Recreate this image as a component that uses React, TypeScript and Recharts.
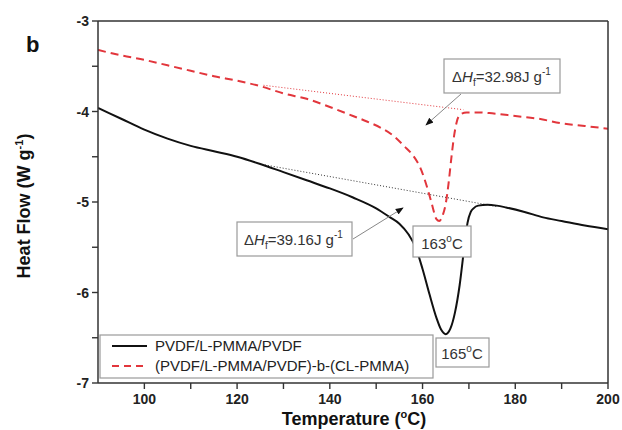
import React from "react";
import { LineChart, Line, XAxis, YAxis, ReferenceLine } from "recharts";

// ── DSC traces ───────────────────────────────────────────────
const blackTemp = [90, 95, 100, 105, 110, 115, 120, 125, 130, 135, 140, 145, 150, 153, 155, 157, 158.5, 160, 161.5, 163, 164, 165, 166, 167, 168, 169, 169.7, 170.4, 171, 172, 174, 176, 178, 182, 186, 190, 195, 200];
const blackHeat = [-3.96, -4.08, -4.2, -4.3, -4.38, -4.44, -4.5, -4.58, -4.67, -4.76, -4.85, -4.95, -5.07, -5.17, -5.24, -5.36, -5.5, -5.74, -6.02, -6.28, -6.41, -6.46, -6.4, -6.22, -5.92, -5.5, -5.23, -5.11, -5.07, -5.04, -5.03, -5.04, -5.06, -5.11, -5.17, -5.21, -5.26, -5.3];

const redTemp = [90, 95, 100, 105, 110, 115, 120, 125, 130, 135, 140, 145, 148, 151, 154, 156, 158, 159.5, 161, 162, 163, 163.6, 164.4, 165, 165.6, 166.2, 166.8, 167.4, 168.2, 169.5, 172, 175, 180, 185, 190, 195, 200];
const redHeat = [-3.32, -3.38, -3.43, -3.49, -3.55, -3.61, -3.66, -3.72, -3.8, -3.86, -3.95, -4.05, -4.11, -4.18, -4.28, -4.38, -4.49, -4.62, -4.84, -5.02, -5.19, -5.21, -5.14, -5.02, -4.8, -4.52, -4.27, -4.11, -4.03, -4.01, -4.01, -4.02, -4.05, -4.08, -4.13, -4.16, -4.19];

// integration baselines (start / end)
const blackBaseT = [126, 176];
const blackBaseH = [-4.59, -5.05];
const redBaseT = [125.7, 168.8];
const redBaseH = [-3.71, -3.98];

const xTicks = [100, 110, 120, 130, 140, 150, 160, 170, 180, 190, 200];
const yTicks = [-7, -6.5, -6, -5.5, -5, -4.5, -4, -3.5, -3];

const seriesNames = ["PVDF/L-PMMA/PVDF", "(PVDF/L-PMMA/PVDF)-b-(CL-PMMA)"];

const blackData = blackTemp.map((t, i) => ({ t, v: blackHeat[i] }));
const redData = redTemp.map((t, i) => ({ t, v: redHeat[i] }));

const FONT = "'Liberation Sans', Arial, sans-serif";
const AXIS = "#333";
const RED = "#e2363c";

// tick label only; the tick marks come from recharts' own tickLine
function XTick(props: any) {
  const { x, y, payload } = props;
  const v = payload.value;
  if (v % 20 !== 0) return null;
  return (
    <text x={x} y={y + 15} textAnchor="middle" fontFamily={FONT} fontWeight="bold" fontSize={14} fill="#222">
      {v}
    </text>
  );
}

function YTick(props: any) {
  const { x, y, payload } = props;
  const v = payload.value;
  if (!Number.isInteger(v)) return null;
  return (
    <text x={x - 3} y={y + 5} textAnchor="end" fontFamily={FONT} fontWeight="bold" fontSize={14} fill="#222">
      {v}
    </text>
  );
}

function Box({ x, y, w, h }: { x: number; y: number; w: number; h: number }) {
  return <rect x={x} y={y} width={w} height={h} fill="#fff" stroke="#9a9a9a" strokeWidth={1.2} />;
}

function Overlay() {
  return (
    <svg width={622} height={430} style={{ position: "absolute", left: 0, top: 0, pointerEvents: "none" }}>
      <defs>
        <marker id="arr" viewBox="0 0 10 10" refX="9" refY="5" markerWidth="8" markerHeight="8" orient="auto">
          <path d="M0,1 L10,5 L0,9 z" fill="#111" />
        </marker>
      </defs>
      <text x={26} y={52} fontFamily={FONT} fontWeight="bold" fontSize={22} fill="#111">b</text>

      {/* axis titles */}
      <text transform="translate(30,206) rotate(-90)" textAnchor="middle" fontFamily={FONT} fontWeight="bold" fontSize={18} fill="#111">
        Heat Flow (W g<tspan fontSize={11} dy={-7}>-1</tspan><tspan dy={7}>)</tspan>
      </text>
      <text x={354} y={425} textAnchor="middle" fontFamily={FONT} fontWeight="bold" fontSize={18} fill="#111">
        Temperature (<tspan fontSize={11} dy={-7}>o</tspan><tspan dy={7}>C)</tspan>
      </text>

      {/* ΔHf annotations */}
      <line x1={461} y1={94} x2={426} y2={125} stroke="#888" strokeWidth={1} markerEnd="url(#arr)" />
      <Box x={444} y={59} w={116} h={34} />
      <text x={452} y={82} fontFamily={FONT} fontSize={15} fill="#333">
        Δ<tspan fontStyle="italic">H</tspan><tspan fontSize={10} dy={4}>f</tspan><tspan dy={-4}>=32.98J g</tspan><tspan fontSize={10} dy={-7}>-1</tspan>
      </text>

      <line x1={353} y1={239} x2={403} y2={208} stroke="#888" strokeWidth={1} markerEnd="url(#arr)" />
      <Box x={237} y={222} w={115} h={34} />
      <text x={244} y={245} fontFamily={FONT} fontSize={15} fill="#333">
        Δ<tspan fontStyle="italic">H</tspan><tspan fontSize={10} dy={4}>f</tspan><tspan dy={-4}>=39.16J g</tspan><tspan fontSize={10} dy={-7}>-1</tspan>
      </text>

      {/* peak temperatures */}
      <Box x={413} y={226} w={58} h={31} />
      <text x={442} y={249} textAnchor="middle" fontFamily={FONT} fontSize={15} fill="#333">
        163<tspan fontSize={10} dy={-7}>o</tspan><tspan dy={7}>C</tspan>
      </text>
      <Box x={436} y={338} w={53} h={29} />
      <text x={462} y={359} textAnchor="middle" fontFamily={FONT} fontSize={15} fill="#333">
        165<tspan fontSize={10} dy={-7}>o</tspan><tspan dy={7}>C</tspan>
      </text>

      {/* legend */}
      <Box x={100} y={335} w={333} h={43} />
      <line x1={112} y1={346} x2={147} y2={346} stroke="#111" strokeWidth={2} />
      <line x1={112} y1={366} x2={147} y2={366} stroke={RED} strokeWidth={2} strokeDasharray="7 5" />
      <text x={155} y={351} fontFamily={FONT} fontSize={15} fill="#222">{seriesNames[0]}</text>
      <text x={155} y={371} fontFamily={FONT} fontSize={15} fill="#222">{seriesNames[1]}</text>
    </svg>
  );
}

export default function App() {
  return (
    <div style={{ position: "absolute", left: 0, top: 0, width: 622, height: 430, background: "#fff" }}>
      <LineChart width={622} height={430} margin={{ top: 20, right: 13, bottom: 17, left: 58 }}>
        <XAxis
          type="number"
          dataKey="t"
          domain={[90, 200]}
          ticks={xTicks}
          interval={0}
          height={30}
          tickSize={6}
          tickMargin={0}
          tickLine={{ stroke: AXIS, strokeWidth: 1.4 }}
          tick={<XTick />}
          axisLine={{ stroke: AXIS, strokeWidth: 1.5 }}
          allowDataOverflow
        />
        <XAxis xAxisId="top" orientation="top" type="number" domain={[90, 200]} height={1} tick={false} tickLine={false} axisLine={{ stroke: AXIS, strokeWidth: 1.5 }} />
        <YAxis
          type="number"
          domain={[-7, -3]}
          ticks={yTicks}
          interval={0}
          width={40}
          tickSize={6}
          tickMargin={0}
          tickLine={{ stroke: AXIS, strokeWidth: 1.4 }}
          tick={<YTick />}
          axisLine={{ stroke: AXIS, strokeWidth: 1.5 }}
          allowDataOverflow
        />
        <YAxis yAxisId="right" orientation="right" type="number" domain={[-7, -3]} width={1} tick={false} tickLine={false} axisLine={{ stroke: AXIS, strokeWidth: 1.5 }} />

        <ReferenceLine
          segment={[{ x: redBaseT[0], y: redBaseH[0] }, { x: redBaseT[1], y: redBaseH[1] }]}
          stroke={RED}
          strokeWidth={1}
          strokeDasharray="1 2"
        />
        <ReferenceLine
          segment={[{ x: blackBaseT[0], y: blackBaseH[0] }, { x: blackBaseT[1], y: blackBaseH[1] }]}
          stroke="#333"
          strokeWidth={1}
          strokeDasharray="1 2"
        />

        <Line data={blackData} dataKey="v" type="monotone" stroke="#111" strokeWidth={2} dot={false} isAnimationActive={false} name={seriesNames[0]} />
        <Line data={redData} dataKey="v" type="monotone" stroke={RED} strokeWidth={2} strokeDasharray="8 5" dot={false} isAnimationActive={false} name={seriesNames[1]} />
      </LineChart>
      <Overlay />
    </div>
  );
}
